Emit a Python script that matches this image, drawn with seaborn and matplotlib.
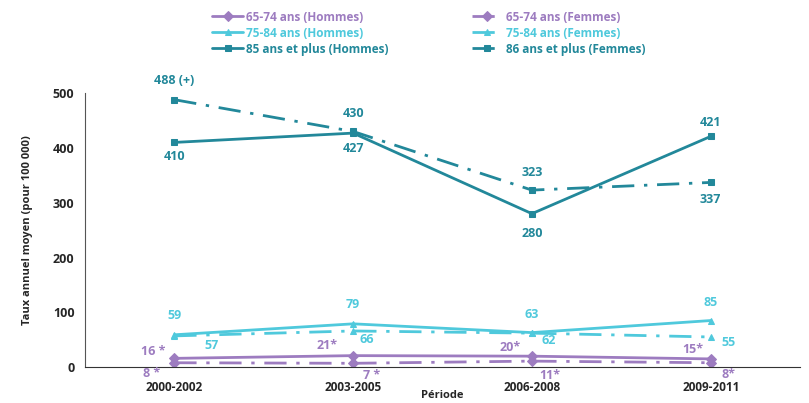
import pandas as pd
import numpy as np
import matplotlib
matplotlib.use("Agg")
import matplotlib.pyplot as plt
import seaborn as sns

periodes = ["2000-2002", "2003-2005", "2006-2008", "2009-2011"]
h_65_74 = [16, 21, 20, 15]
f_65_74 = [8, 7, 11, 8]
h_75_84 = [59, 79, 63, 85]
f_75_84 = [57, 66, 62, 55]
h_85 = [410, 427, 280, 421]
f_85 = [488, 430, 323, 337]

lab_h_65 = ["16 *", "21*", "20*", "15*"]
lab_f_65 = ["8 *", "7 *", "11*", "8*"]
lab_h_75 = ["59", "79", "63", "85"]
lab_f_75 = ["57", "66", "62", "55"]
lab_h_85 = ["410", "427", "280", "421"]
lab_f_85 = ["488 (+)", "430", "323", "337"]

violet = "#9d7cc0"
cyan = "#4fc9dc"
sarcelle = "#22889a"
tiret_point = (0, (8, 3.5, 1.2, 3.5))

series = [
    ("65-74 ans (Hommes)", h_65_74, lab_h_65, violet, "-", "D",
     [(-15, 5), (-19, 7), (-16, 6), (-13, 7)]),
    ("75-84 ans (Hommes)", h_75_84, lab_h_75, cyan, "-", "^",
     [(0, 14), (0, 14), (0, 13), (0, 13)]),
    ("85 ans et plus (Hommes)", h_85, lab_h_85, sarcelle, "-", "s",
     [(0, -10), (0, -11), (0, -14), (0, 10)]),
    ("65-74 ans (Femmes)", f_65_74, lab_f_65, violet, tiret_point, "D",
     [(-16, -8), (13, -8.5), (13, -10.5), (13, -8.5)]),
    ("75-84 ans (Femmes)", f_75_84, lab_f_75, cyan, tiret_point, "^",
     [(27, -7), (10, -6), (12, -5), (13, -4)]),
    ("86 ans et plus (Femmes)", f_85, lab_f_85, sarcelle, tiret_point, "s",
     [(0, 14), (0, 13), (0, 13), (0, -12)]),
]

sns.set_style("white")
plt.rcParams['font.family'] = ['Open Sans', 'DejaVu Sans']

fig = plt.figure(figsize=(8.09, 4.03), dpi=100)
ax = fig.add_axes([0.105, 0.089, 0.884, 0.68])

x = np.arange(len(periodes))
for nom, vals, labs, col, ls, mk, offs in series:
    df = pd.DataFrame({"x": x, "y": vals})
    sns.lineplot(data=df, x="x", y="y", ax=ax, color=col, linestyle=ls,
                 marker=mk, markersize=5, markeredgecolor=col, linewidth=2,
                 label=nom)
    for xi, yi, t, o in zip(x, vals, labs, offs):
        ax.annotate(t, (xi, yi), xytext=o, textcoords="offset points",
                    ha="center", va="center", color=col, fontsize=9,
                    fontweight="bold")

ax.set_xlim(-0.5, 3.5)
ax.set_ylim(0, 500)
ax.set_yticks([0, 100, 200, 300, 400, 500])
ax.set_xticks(x)
ax.set_xticklabels(periodes, fontsize=8.5, fontweight="bold")
ax.set_xticks(np.arange(-0.5, 4, 1), minor=True)
ax.tick_params(axis="x", which="major", length=0, pad=10)
ax.tick_params(axis="x", which="minor", length=5, width=1, color="#333333", direction="out")
ax.tick_params(axis="y", length=4, width=1, color="#333333", direction="out")
for t in ax.get_yticklabels():
    t.set_fontweight("bold")
    t.set_fontsize(9)
ax.set_xlabel("Période", fontsize=8, fontweight="bold", labelpad=-3)
ax.set_ylabel("Taux annuel moyen (pour 100 000)", fontsize=8, fontweight="bold", labelpad=14)
sns.despine(ax=ax)
ax.spines["left"].set_color("#555555")
ax.spines["bottom"].set_color("#333333")

leg = ax.legend(ncol=2, loc="upper center", bbox_to_anchor=(0.53, 1.0),
                bbox_transform=fig.transFigure, frameon=False, fontsize=8.5,
                handlelength=2.6, columnspacing=7, labelspacing=0.25,
                handletextpad=0.3)
for txt, s in zip(leg.get_texts(), series):
    txt.set_color(s[3])
    txt.set_fontweight("bold")

fig.savefig("out.png", dpi=100)
